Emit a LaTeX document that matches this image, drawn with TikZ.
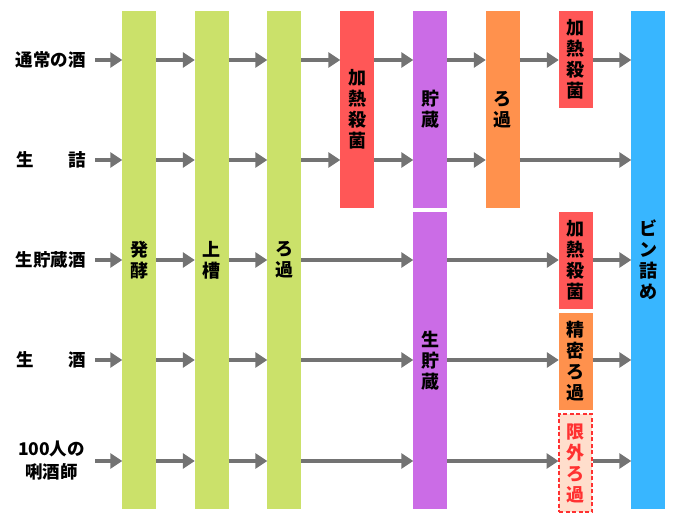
\documentclass[tikz,border=0pt]{standalone}
\usepackage{fontspec}
\setmainfont{Noto Sans CJK JP}
\usetikzlibrary{arrows.meta}
\definecolor{cgreen}{HTML}{CBE16A}
\definecolor{cred}{HTML}{FF5757}
\definecolor{cpurple}{HTML}{CB6CE6}
\definecolor{corange}{HTML}{FF914D}
\definecolor{cblue}{HTML}{38B6FF}
\definecolor{carrow}{HTML}{737373}
\definecolor{cdash}{HTML}{FF3131}
\definecolor{cpeach}{HTML}{FFDECC}
\tikzset{
  x=1pt, y=1pt,
  col/.style={rectangle, inner sep=0pt, minimum width=34pt, align=center,
    font=\fontsize{18}{21}\selectfont\bfseries},
  lab/.style={inner sep=0pt, font=\fontsize{17.5}{23}\selectfont\bfseries},
  arr/.style={draw=carrow, line width=4.5pt, -{Triangle[length=12pt,width=15pt]}, shorten >=-0.5pt},
}
\begin{document}
\begin{tikzpicture}
\useasboundingbox (0,0) rectangle (680,-520);
% columns
\node[col, fill=cgreen, minimum height=498pt] (g1) at (139,-260) {発\\酵};
\node[col, fill=cgreen, minimum height=498pt] (g2) at (211.5,-260) {上\\槽};
\node[col, fill=cgreen, minimum height=498pt] (g3) at (284,-260) {ろ\\過};
\node[col, fill=cred, minimum height=197pt] (h1) at (357,-109.5) {加\\熱\\殺\\菌};
\node[col, fill=cpurple, minimum height=197pt] (p1) at (430,-109.5) {貯\\蔵};
\node[col, fill=cpurple, minimum height=297pt] (p2) at (430,-360.5) {生\\貯\\蔵};
\node[col, fill=corange, minimum height=197pt] (o1) at (502.5,-109.5) {ろ\\過};
\node[col, fill=cred, minimum height=97pt] (h2) at (575.5,-59.5) {加\\熱\\殺\\菌};
\node[col, fill=cred, minimum height=97pt] (h3) at (575.5,-260.5) {加\\熱\\殺\\菌};
\node[col, fill=corange, minimum height=97pt] (o2) at (575.5,-361.5) {精\\密\\ろ\\過};
\node[col, fill=cpeach, draw=cdash, line width=2pt, dash pattern=on 4pt off 2.5pt,
  text=cdash, minimum width=33pt, minimum height=98pt] (o3) at (575.5,-463) {限\\外\\ろ\\過};
\node[col, fill=cblue, minimum height=498pt] (b) at (648,-260) {ビ\\ン\\詰\\め};
% labels
\node[lab, anchor=east] (l1) at (86,-60) {通常の酒};
\node[lab, anchor=east, text width=69pt] (l2) at (86,-160) {生\hfill 詰};
\node[lab, anchor=east] (l3) at (86,-260) {生貯蔵酒};
\node[lab, anchor=east, text width=69pt] (l4) at (86,-360) {生\hfill 酒};
\node[lab, align=center] (l5) at (51.5,-461) {100人の\\唎酒師};
% row start coordinates
\coordinate (s1) at (95,-60);
\coordinate (s2) at (95,-160);
\coordinate (s3) at (95,-260);
\coordinate (s4) at (95,-360);
\coordinate (s5) at (95,-461);
% row 1
\draw[arr] (s1) -- (g1.west |- s1);
\draw[arr] (g1.east |- s1) -- (g2.west |- s1);
\draw[arr] (g2.east |- s1) -- (g3.west |- s1);
\draw[arr] (g3.east |- s1) -- (h1.west |- s1);
\draw[arr] (h1.east |- s1) -- (p1.west |- s1);
\draw[arr] (p1.east |- s1) -- (o1.west |- s1);
\draw[arr] (o1.east |- s1) -- (h2.west |- s1);
\draw[arr] (h2.east |- s1) -- (b.west |- s1);
% row 2
\draw[arr] (s2) -- (g1.west |- s2);
\draw[arr] (g1.east |- s2) -- (g2.west |- s2);
\draw[arr] (g2.east |- s2) -- (g3.west |- s2);
\draw[arr] (g3.east |- s2) -- (h1.west |- s2);
\draw[arr] (h1.east |- s2) -- (p1.west |- s2);
\draw[arr] (p1.east |- s2) -- (o1.west |- s2);
\draw[arr] (o1.east |- s2) -- (b.west |- s2);
% row 3
\draw[arr] (s3) -- (g1.west |- s3);
\draw[arr] (g1.east |- s3) -- (g2.west |- s3);
\draw[arr] (g2.east |- s3) -- (g3.west |- s3);
\draw[arr] (g3.east |- s3) -- (p2.west |- s3);
\draw[arr] (p2.east |- s3) -- (h3.west |- s3);
\draw[arr] (h3.east |- s3) -- (b.west |- s3);
% row 4
\draw[arr] (s4) -- (g1.west |- s4);
\draw[arr] (g1.east |- s4) -- (g2.west |- s4);
\draw[arr] (g2.east |- s4) -- (g3.west |- s4);
\draw[arr] (g3.east |- s4) -- (p2.west |- s4);
\draw[arr] (p2.east |- s4) -- (o2.west |- s4);
\draw[arr] (o2.east |- s4) -- (b.west |- s4);
% row 5
\draw[arr] (s5) -- (g1.west |- s5);
\draw[arr] (g1.east |- s5) -- (g2.west |- s5);
\draw[arr] (g2.east |- s5) -- (g3.west |- s5);
\draw[arr] (g3.east |- s5) -- (p2.west |- s5);
\draw[arr] (p2.east |- s5) -- (o3.west |- s5);
\draw[arr] (o3.east |- s5) -- (b.west |- s5);
\end{tikzpicture}
\end{document}
